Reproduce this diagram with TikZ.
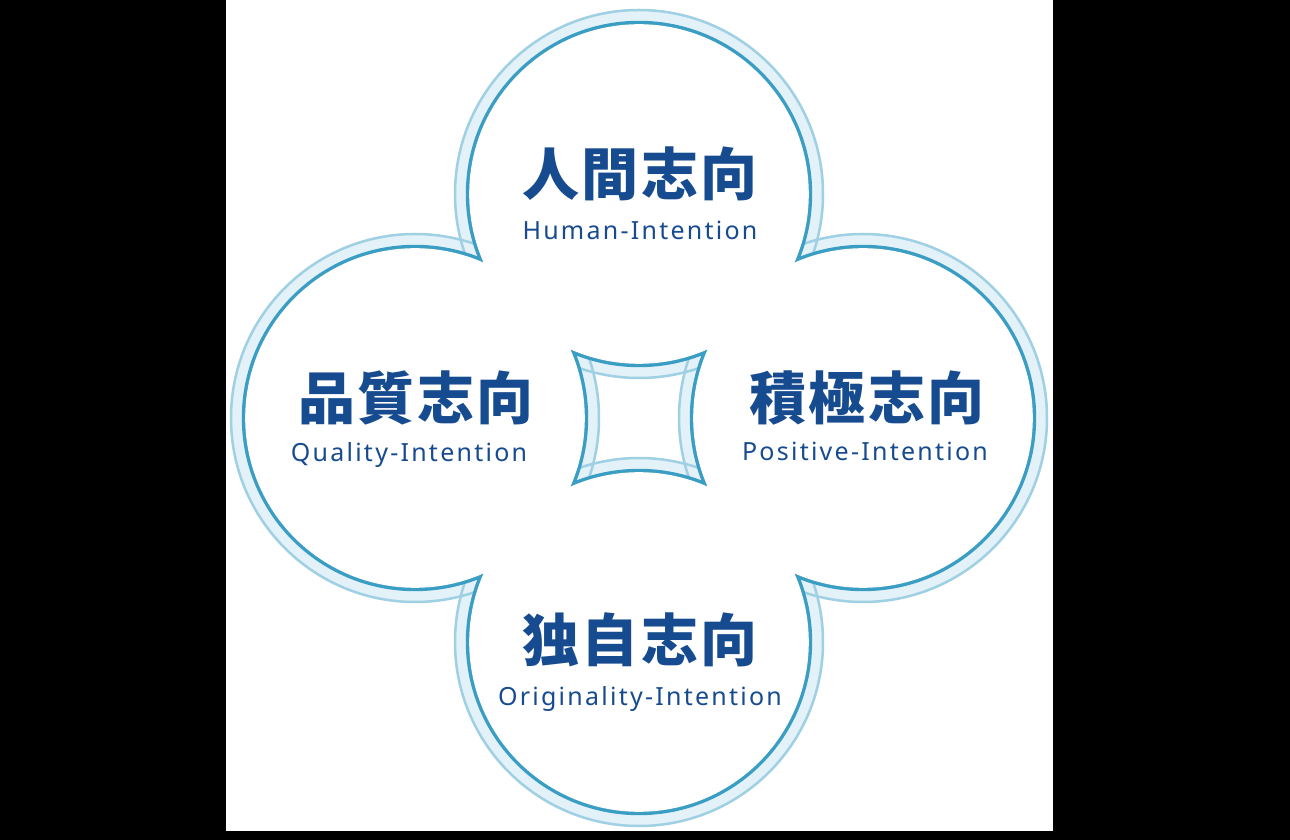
\documentclass[tikz,border=0pt]{standalone}
\usepackage{fontspec}
\usepackage{xcolor}
\usepackage{tikz}
\newfontfamily\jpfont{Noto Sans CJK JP}[LetterSpace=4]
\newfontfamily\enfont{Noto Sans}[LetterSpace=9]
\definecolor{ink}{HTML}{174B8F}
\definecolor{rim}{HTML}{3A9DC3}
\definecolor{halo}{HTML}{9FD0E4}
\definecolor{band}{HTML}{E3F1F8}
\tikzset{
  jp/.style={text=ink, font=\jpfont\bfseries\fontsize{57}{62}\selectfont, inner sep=0pt},
  en/.style={text=ink, font=\enfont\fontsize{25}{29}\selectfont, inner sep=0pt, anchor=base},
  bandfill/.style={fill=band},
  haloline/.style={draw=halo, line width=2.5pt},
  rimfill/.style={fill=rim},
  paper/.style={fill=white}
}

\begin{document}
\begin{tikzpicture}[x=1pt,y=1pt]
% frame
\fill[black] (-639,-422) rectangle (651,418);
\fill[white] (-413,-413) rectangle (414,418);
\useasboundingbox (-639,-422) rectangle (651,418);

% lobe centres
\coordinate (T) at (0,224);
\coordinate (B) at (0,-224);
\coordinate (L) at (-224,0);
\coordinate (R) at (224,0);

% pale band
\fill[bandfill] (T) circle[radius=185pt] (B) circle[radius=185pt]
  (L) circle[radius=185pt] (R) circle[radius=185pt];
\draw[haloline] (T) circle[radius=184pt];
\draw[haloline] (B) circle[radius=184pt];
\draw[haloline] (L) circle[radius=184pt];
\draw[haloline] (R) circle[radius=184pt];

% dark rim
\fill[rimfill] (T) circle[radius=173.2pt] (B) circle[radius=173.2pt]
  (L) circle[radius=173.2pt] (R) circle[radius=173.2pt];
\fill[paper] (T) circle[radius=169.8pt] (B) circle[radius=169.8pt]
  (L) circle[radius=169.8pt] (R) circle[radius=169.8pt];

% labels
\node[jp] (human) at (1,244) {人間志向};
\node[en] (humanEn) at (1,178) {Human-Intention};
\node[jp] (quality) at (-223,20) {品質志向};
\node[en] (qualityEn) at (-230,-44) {Quality-Intention};
\node[jp] (positive) at (228,20) {積極志向};
\node[en] (positiveEn) at (226,-43) {Positive-Intention};
\node[jp] (original) at (1,-222) {独自志向};
\node[en] (originalEn) at (1,-287) {Originality-Intention};
\end{tikzpicture}
\end{document}
